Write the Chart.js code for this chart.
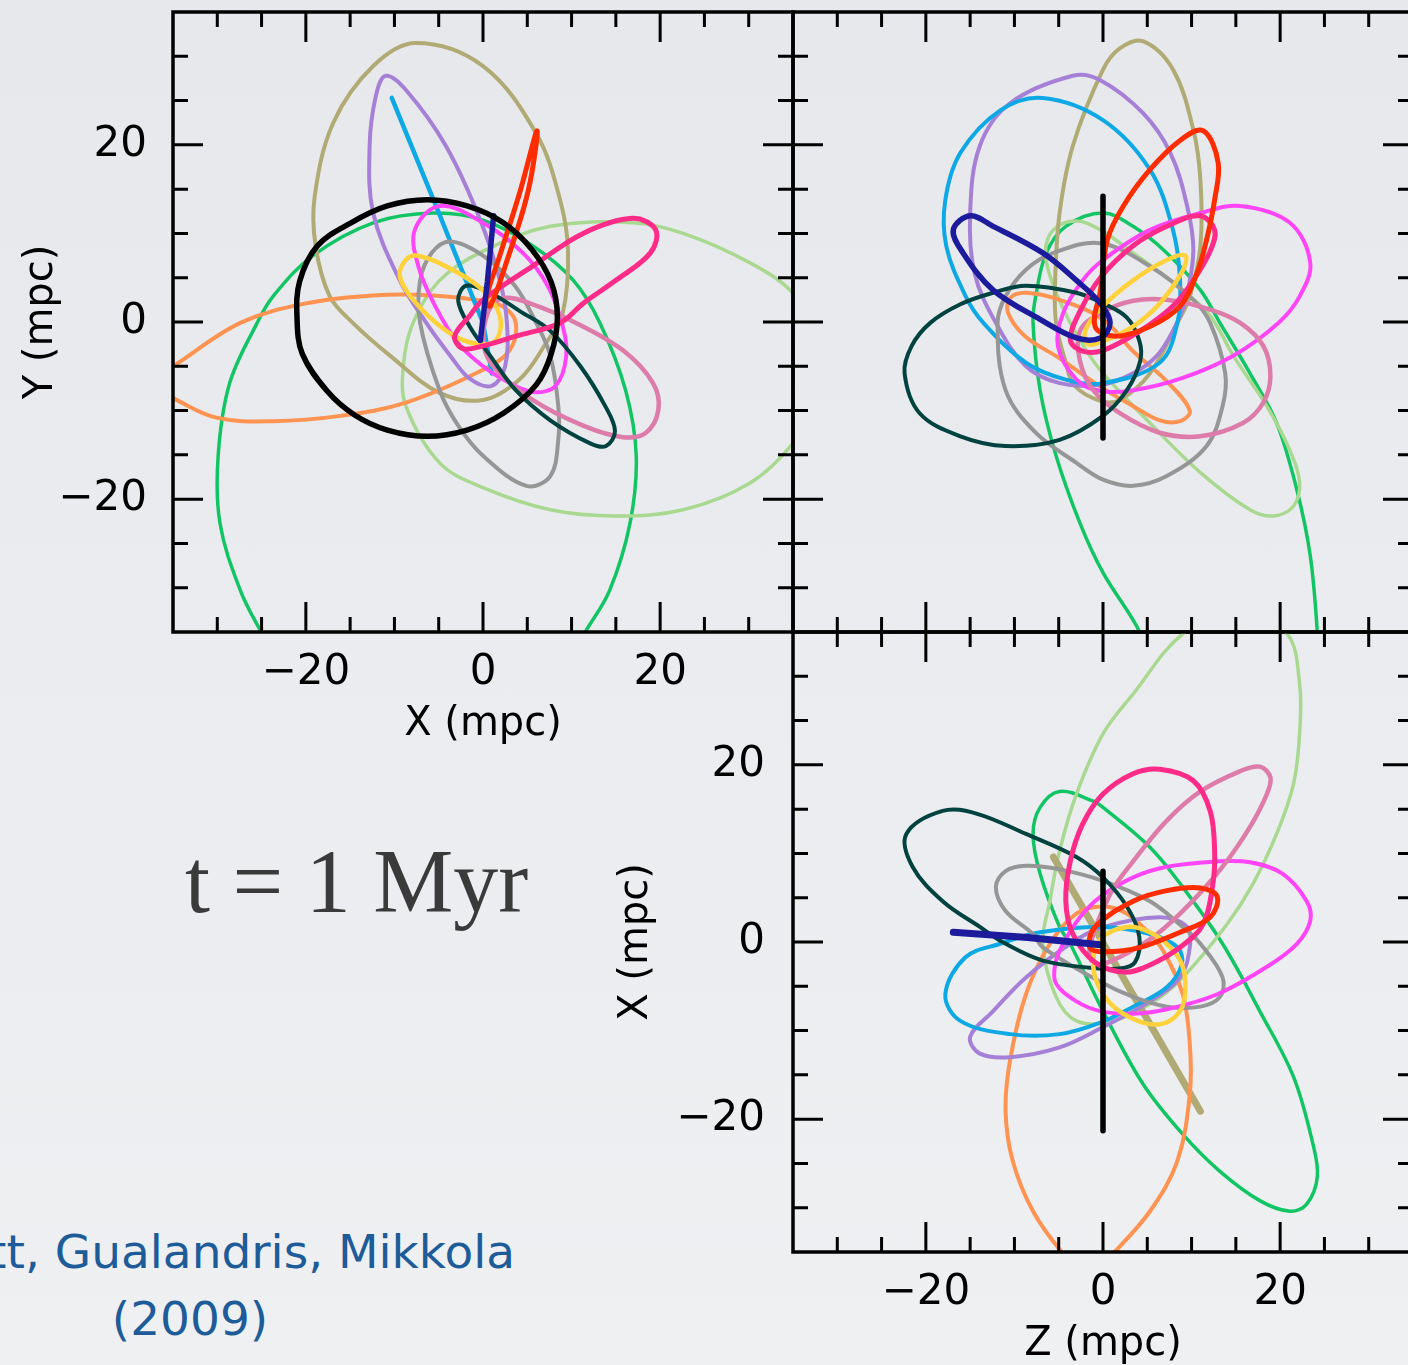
<!DOCTYPE html>
<html><head><meta charset="utf-8">
<script src="https://cdn.jsdelivr.net/npm/chart.js@4"></script>
<style>
html,body{margin:0;padding:0;width:1408px;height:1365px;overflow:hidden;}
body{position:relative;background:linear-gradient(180deg,#e7e8ec 0%,#ebecef 50%,#eff0f2 100%);}
canvas{position:absolute;}
#tl{left:0;top:0;width:800px;height:760px;}
#tr{left:786px;top:0;width:634px;height:640px;}
#br{left:600px;top:625px;width:820px;height:755px;}
#time{position:absolute;left:185px;top:837px;font-family:"Liberation Serif",serif;font-size:90px;line-height:90px;color:#3a3a3a;white-space:nowrap;}
#cite1{position:absolute;right:893px;top:1228px;font-family:"DejaVu Sans",sans-serif;font-size:47px;line-height:47px;color:#1d5c98;white-space:nowrap;}
#cite2{position:absolute;left:40px;width:300px;text-align:center;top:1295px;font-family:"DejaVu Sans",sans-serif;font-size:47px;line-height:47px;color:#1d5c98;white-space:nowrap;}
</style></head><body>
<canvas id="tl" width="800" height="760"></canvas>
<canvas id="tr" width="634" height="640"></canvas>
<canvas id="br" width="820" height="755"></canvas>
<div id="time">t = 1 Myr</div>
<div id="cite1">Merritt, Gualandris, Mikkola</div>
<div id="cite2">(2009)</div>
<script>
// ---------- axis ticks ----------
const axisMin = -35, axisMax = 35, tickStep = 5;
const majorTicks = [-20, 0, 20];
const tickText = ['\u221220', '0', '20'];

// ---------- top-left panel: X (horizontal) vs Y (vertical), mpc ----------
const xyBlack = [[8.4,0.5],[7.7,4.5],[5.5,8.2],[2.3,11.2],[-1.8,13.1],[-6.3,13.8],[-10.8,13.1],[-14.9,11.2],[-18.7,8.6],[-20.7,4.6],[-21.0,0.5],[-20.4,-3.6],[-17.6,-7.8],[-14.5,-10.5],[-10.8,-12.2],[-6.3,-12.9],[-1.8,-12.2],[2.3,-10.3],[6.0,-7.1],[7.7,-3.6]];
const xyGreen = [[-25.1,-34.9],[-27.4,-30.3],[-29.7,-22.7],[-29.9,-15.1],[-28.6,-6.9],[-25.5,-0.1],[-23.7,2.9],[-19.2,7.5],[-12.4,11.2],[-5.6,12.3],[0,11.5],[5.6,8.6],[10.2,4.7],[13.2,-0.1],[16.1,-7.7],[17.3,-15.1],[16.6,-22.7],[14.3,-30.3],[11.6,-34.9],[7.0,-42.8],[-7.1,-47.3],[-20.7,-42.8]];
const xyLightGreen = [[-7.9,-0.1],[-4.9,4.7],[0,8.0],[7.6,10.8],[16.9,11.2],[22.6,10.0],[30.1,6.7],[35.0,3.3],[38.6,-2.1],[38.0,-8.9],[35.0,-13.7],[30.1,-18.2],[22.6,-21.2],[15.0,-21.9],[7.6,-21.2],[0,-18.7],[-4.9,-15.9],[-8.7,-9.5],[-9.0,-5.0]];
const xyTan = [[-19.0,14.2],[-16.9,22.5],[-12.4,28.9],[-7.6,31.5],[0,28.9],[6.0,21.3],[8.7,13.8],[9.6,8.0],[9.0,1.0],[7.1,-2.4],[4.2,-6.4],[0,-8.8],[-4.9,-8.0],[-10.5,-3.8],[-14.7,-0.1],[-17.3,2.9],[-18.9,8.6]];
const xyPurple = [[-11.0,27.8],[-8.7,26.2],[-4.2,19.9],[-0.3,11.5],[1.9,4.7],[2.7,-0.1],[2.5,-5.0],[1.0,-7.2],[-1.5,-6.4],[-3.7,-3.8],[-6.4,-0.1],[-9.4,4.7],[-12.4,12.3],[-12.8,19.9],[-12.1,25.5]];
const xyBlue = [[-10.3,25.3],[-5.1,12.6],[0,-0.1],[1.0,-5.8]];
const xyRed = [[6.1,21.6],[4.2,14.8],[1.9,7.5],[0.3,2.4],[0.8,1.8],[2.5,6.3],[5.1,14.8]];
const xyNavy = [[1.2,12.0],[0.5,4.6],[-0.3,-2.1]];
const xyHotPink = [[19.5,10.4],[18.9,7.8],[15.0,4.7],[11.3,2.1],[8.7,-0.1],[3.7,-1.6],[0,-2.7],[-2.3,-3.0],[-3.2,-1.6],[-1.5,0.7],[0,2.5],[5.6,6.3],[11.3,10.0],[16.9,11.7]];
const xyMagenta = [[-4.9,13.1],[0,11.2],[4.5,7.8],[7.3,4.1],[8.9,-0.1],[9.4,-3.8],[8.2,-7.2],[5.6,-7.9],[2.3,-6.5],[0,-5.0],[-2.8,-2.4],[-5.4,1.8],[-7.3,6.3],[-7.7,10.4]];
const xyGray = [[-3.7,9.1],[0,7.5],[3.6,4.1],[6.0,-0.1],[7.6,-3.8],[8.5,-9.5],[8.5,-13.3],[7.6,-17.4],[4.9,-18.5],[0,-15.1],[-2.8,-11.7],[-4.9,-7.7],[-7.1,-0.1],[-7.1,4.7],[-5.8,7.8]];
const xyTeal = [[-1.9,4.1],[0.8,3.3],[4.2,1.2],[7.6,-1.0],[11.0,-5.0],[13.8,-9.5],[14.9,-12.3],[13.9,-14.0],[12.1,-13.7],[7.6,-11.1],[3.7,-7.7],[0.8,-3.8],[-1.5,-0.5],[-2.8,2.4]];
const xyMauve = [[2.3,2.7],[5.6,2.0],[10.5,-0.1],[15.8,-3.2],[19.2,-6.9],[19.8,-9.9],[18.4,-12.5],[15.8,-13.0],[11.3,-11.7],[5.6,-8.8],[1.5,-5.4],[0.1,-2.7],[0.6,1.2]];
const xyOrange = [[3.7,-0.1],[2.3,1.7],[0,2.4],[-5.6,3.0],[-12.4,3.0],[-20.0,2.1],[-27.4,-0.1],[-35.0,-5.0],[-38.2,-7.0],[-35.0,-8.6],[-30.1,-10.8],[-23.7,-11.2],[-16.1,-10.6],[-8.7,-9.1],[0,-5.4],[3.0,-3.2]];
const xyYellow = [[-7.6,7.5],[-4.2,6.3],[0,3.6],[1.9,0.7],[1.6,-1.9],[0,-2.5],[-2.6,-1.9],[-5.3,-0.1],[-8.2,2.9],[-9.4,5.2],[-8.8,6.9]];

// ---------- top-right panel: Z (horizontal) vs Y (vertical), mpc ----------
const zyBlack = [[0,14.2],[0,-13.1]];
const zyGreen = [[4.2,-35.1],[0,-28.3],[-2.6,-22.7],[-5.3,-15.1],[-7.1,-7.7],[-7.9,-0.1],[-7.6,2.9],[-6.4,7.8],[-4.2,10.8],[0,12.3],[3.4,10.8],[7.2,7.8],[11.0,3.6],[13.2,-0.1],[16.6,-5.8],[19.6,-11.4],[21.9,-19.0],[23.4,-26.4],[24.2,-35.1],[24.5,-42.8],[15.5,-50.7],[7.6,-43.9]];
const zyLightGreen = [[-3.0,11.4],[-0.3,10.4],[3.4,7.8],[8.4,4.1],[12.1,0.7],[14.7,-3.8],[18.5,-9.5],[21.1,-14.5],[22.2,-18.2],[21.5,-20.8],[19.2,-21.9],[16.6,-21.2],[11.0,-17.0],[5.3,-11.4],[0,-5.8],[-1.9,-3.2],[-3.7,-0.1],[-5.6,4.1],[-6.5,7.8],[-5.6,10.4]];
const zyTan = [[4.5,31.7],[7.9,28.5],[10.2,21.7],[11.0,16.0],[11.0,8.6],[9.8,2.9],[8.4,-0.1],[5.3,-5.8],[1.9,-8.8],[-0.3,-8.9],[-3.2,-7.2],[-4.2,-4.6],[-5.3,-0.1],[-5.4,4.7],[-4.9,12.3],[-3.4,19.9],[0,28.5],[1.9,30.9]];
const zyPurple = [[-3.4,27.8],[-0.3,27.3],[4.5,23.6],[7.6,19.1],[9.5,13.1],[10.2,8.0],[9.3,2.4],[7.9,-1.0],[6.1,-3.8],[3.4,-5.8],[-0.3,-7.1],[-4.9,-6.9],[-8.7,-5.0],[-12.1,-0.1],[-14.5,5.5],[-15.0,12.3],[-13.9,19.9],[-10.5,24.7]];
const zyBlue = [[-6.8,25.3],[0,22.8],[5.3,17.2],[7.9,10.4],[8.7,4.7],[8.4,-0.1],[6.4,-4.6],[0,-6.9],[-4.2,-6.5],[-8.7,-4.6],[-13.5,-0.1],[-15.5,2.9],[-17.7,8.6],[-17.8,13.8],[-16.1,19.1],[-11.6,23.9]];
const zyRed = [[11.3,21.6],[13.0,18.0],[12.6,13.8],[11.7,9.3],[10.6,5.5],[8.7,1.8],[5.3,-0.5],[1.4,-1.6],[-0.9,-0.5],[-0.3,3.5],[0.5,9.3],[2.3,13.1],[5.3,17.2],[8.7,20.5]];
const zyNavy = [[-16.9,10.4],[-15.0,12.0],[-12.4,10.8],[-6.8,7.8],[-3.0,4.7],[-0.3,2.1],[0.8,-0.1],[-0.3,-1.8],[-3.0,-1.8],[-7.1,0.3],[-12.4,3.6],[-15.8,7.8]];
const zyHotPink = [[10.9,12.0],[12.6,10.4],[12.1,8.0],[10.2,4.7],[7.9,1.8],[4.2,-1.0],[0,-3.2],[-2.3,-3.3],[-3.7,-2.0],[-2.6,1.2],[-0.3,5.0],[3.4,8.6],[7.2,10.8]];
const zyMagenta = [[15.5,13.1],[21.1,11.2],[23.4,6.7],[22.2,2.9],[19.8,-0.1],[14.7,-3.8],[9.0,-6.3],[3.4,-7.7],[-0.3,-7.8],[-3.0,-6.5],[-5.1,-2.7],[-4.5,1.0],[-2.3,4.7],[0,7.0],[5.3,10.4],[11.0,12.3]];
const zyTeal = [[-19.5,-0.1],[-16.1,2.0],[-12.4,3.3],[-8.7,4.1],[-3.0,3.3],[0,2.1],[2.7,0.5],[4.1,-2.1],[4.2,-4.4],[2.7,-7.7],[0,-10.6],[-4.9,-13.3],[-11.0,-14.0],[-16.1,-12.9],[-20.7,-10.3],[-22.4,-5.8],[-21.6,-2.7]];
const zyGray = [[-0.3,8.9],[5.3,6.3],[10.2,2.5],[12.1,-0.1],[13.8,-5.8],[13.5,-9.5],[11.7,-14.0],[7.2,-17.4],[3.4,-18.5],[0,-17.8],[-3.0,-15.9],[-7.6,-12.5],[-11.0,-7.7],[-11.9,-0.1],[-11.0,2.9],[-8.7,5.9],[-5.6,7.8]];
const zyMauve = [[-2.6,-1.0],[-0.3,1.0],[3.4,2.4],[7.2,2.5],[12.1,1.4],[15.5,-0.1],[18.1,-2.7],[18.9,-6.1],[18.1,-9.1],[15.8,-11.4],[11.0,-12.9],[6.4,-12.5],[1.9,-10.3],[-1.1,-7.7],[-2.6,-4.4]];
const zyOrange = [[-10.5,2.7],[-8.7,3.3],[-4.9,2.5],[0,0.3],[3.4,-3.3],[7.2,-6.7],[9.8,-10.0],[8.7,-11.2],[6.4,-11.1],[3.4,-9.5],[0,-7.5],[-4.9,-4.1],[-8.8,-1.6],[-10.7,1.0]];
const zyYellow = [[9.3,7.5],[9.0,5.8],[6.4,2.1],[3.4,-0.5],[0.2,-2.1],[-1.7,-2.5],[-2.0,-1.0],[-0.3,1.5],[3.4,4.7],[7.2,7.0]];

// ---------- bottom-right panel: Z (horizontal) vs X (vertical), mpc ----------
const zxBlack = [[0,8.0],[0,-21.3]];
const zxGreen = [[-4.9,17.0],[-1.1,15.9],[0,15.2],[5.3,10.7],[9.0,6.2],[13.5,-0.2],[17.7,-7.8],[21.5,-15.2],[23.7,-22.8],[24.2,-26.5],[23.0,-29.6],[21.1,-30.4],[17.7,-29.2],[13.2,-25.9],[9.0,-21.7],[4.5,-16.0],[0,-7.8],[-3.7,-0.2],[-4.9,1.7],[-7.1,7.7],[-7.9,12.2],[-7.1,15.2]];
const zxLightGreen = [[15.5,37.8],[20.8,34.8],[22.2,29.1],[22.2,23.5],[21.5,17.8],[19.6,12.2],[16.9,6.5],[14.0,2.0],[9.0,-4.0],[5.3,-7.0],[0.8,-9.0],[-3.0,-8.9],[-5.3,-6.2],[-6.8,-0.2],[-6.0,4.6],[-4.9,10.3],[-3.0,16.7],[0,23.5],[3.4,28.0],[9.0,34.8]];
const zxTan = [[-5.6,9.6],[11.0,-19.1]];
const zxPurple = [[-3.7,-0.2],[-0.3,1.6],[6.4,2.8],[9.5,1.7],[9.8,-0.6],[8.7,-4.0],[5.3,-6.7],[0,-9.6],[-4.9,-11.9],[-10.5,-13.0],[-13.9,-12.6],[-15.0,-10.7],[-12.4,-7.8],[-8.7,-4.0]];
const zxBlue = [[-11.6,-0.2],[-7.1,1.1],[0,1.7],[5.3,0.9],[8.4,-0.6],[8.9,-2.5],[7.2,-5.1],[3.4,-7.3],[-0.3,-9.1],[-4.9,-10.4],[-10.5,-10.4],[-16.1,-8.9],[-17.8,-5.9],[-15.5,-1.7]];
const zxRed = [[12.9,5.1],[12.1,2.8],[8.7,1.1],[4.2,-0.6],[0.2,-1.1],[-1.5,-0.6],[-0.9,1.7],[3.4,4.6],[7.2,5.8],[11.0,6.1]];
const zxNavy = [[-16.9,1.1],[-8.5,0.5],[-0.3,-0.3]];
const zxHotPink = [[6.4,19.5],[10.2,18.2],[12.1,14.8],[12.6,10.3],[12.4,6.5],[11.3,2.0],[8.7,-0.6],[5.3,-2.6],[2.5,-3.4],[-0.9,-2.3],[-3.4,0.9],[-4.2,4.6],[-3.7,9.1],[-2.3,13.3],[0,16.7],[3.4,19.0]];
const zxMagenta = [[12.9,9.1],[16.6,9.0],[20.3,7.7],[23.0,4.6],[23.4,2.4],[21.9,-0.2],[18.5,-2.8],[12.9,-5.9],[7.2,-7.6],[3.4,-8.1],[-0.3,-7.8],[-3.0,-6.7],[-5.3,-4.7],[-5.4,-2.5],[-4.5,-0.2],[-2.6,2.8],[-0.3,5.1],[3.4,7.3],[7.2,8.5]];
const zxTeal = [[-18.1,14.8],[-14.3,14.5],[-8.7,12.2],[-3.0,9.6],[0,7.3],[2.7,4.0],[4.1,0.6],[3.6,-2.3],[1.9,-3.0],[-1.5,-2.9],[-6.8,-2.1],[-11.0,-0.2],[-13.9,1.7],[-18.1,4.6],[-21.5,8.5],[-22.2,12.2]];
const zxGray = [[-8.7,8.6],[-4.9,8.2],[0,6.9],[5.3,4.6],[9.0,1.7],[11.0,-0.2],[13.5,-4.0],[13.2,-6.2],[11.0,-7.3],[7.2,-7.3],[3.4,-6.2],[-0.3,-4.5],[-6.8,-0.6],[-7.9,0.9],[-11.0,3.5],[-12.1,6.2],[-11.0,8.0]];
const zxMauve = [[17.7,19.8],[18.9,18.6],[18.5,16.7],[16.6,13.0],[13.5,8.5],[9.8,4.3],[6.1,0.9],[1.9,-1.7],[-0.9,-2.5],[-1.5,-0.6],[0.8,5.4],[3.4,9.1],[7.2,13.7],[11.0,17.0],[15.5,19.3]];
const zxOrange = [[0,4.0],[2.7,3.2],[5.3,0.9],[6.8,-1.0],[9.0,-5.9],[9.8,-11.5],[9.8,-17.2],[8.4,-24.7],[5.3,-30.4],[1.1,-35.2],[-1.7,-37.8],[-4.5,-35.2],[-7.9,-30.4],[-10.2,-24.7],[-11.0,-19.1],[-10.5,-13.4],[-8.7,-5.9],[-6.0,-0.2],[-3.0,3.2]];
const zxYellow = [[2.7,1.7],[5.3,1.1],[7.6,-0.6],[8.9,-2.5],[9.3,-5.1],[8.7,-7.8],[6.4,-9.3],[3.0,-8.5],[0.2,-6.2],[-1.1,-2.8],[-0.3,0.3]];

// ---------- styles (kept apart from the data) ----------
const styles = {
  black:{color:'#000000',width:5.5}, navy:{color:'#1b1b9c',width:5.5}, red:{color:'#ff2c00',width:5},
  hotPink:{color:'#ff2b88',width:5}, yellow:{color:'#ffd23c',width:4.5}, teal:{color:'#00423f',width:4},
  mauve:{color:'#dd7ca8',width:4.5}, magenta:{color:'#ff45f7',width:4}, gray:{color:'#969696',width:4},
  blue:{color:'#0ea9e4',width:4}, purple:{color:'#a680d6',width:4}, orange:{color:'#ff9352',width:4},
  tan:{color:'#b0ab74',width:4}, lightGreen:{color:'#a9d890',width:3.5}, green:{color:'#12c564',width:3.5}
};
const drawOrder = ['black','navy','red','hotPink','yellow','teal','mauve','magenta','gray','blue','purple','orange','tan','lightGreen','green'];

const panelTL = {black:xyBlack,green:xyGreen,lightGreen:xyLightGreen,tan:xyTan,purple:xyPurple,blue:xyBlue,red:xyRed,navy:xyNavy,hotPink:xyHotPink,magenta:xyMagenta,gray:xyGray,teal:xyTeal,mauve:xyMauve,orange:xyOrange,yellow:xyYellow};
const panelTR = {black:zyBlack,green:zyGreen,lightGreen:zyLightGreen,tan:zyTan,purple:zyPurple,blue:zyBlue,red:zyRed,navy:zyNavy,hotPink:zyHotPink,magenta:zyMagenta,gray:zyGray,teal:zyTeal,mauve:zyMauve,orange:zyOrange,yellow:zyYellow};
const panelBR = {black:zxBlack,green:zxGreen,lightGreen:zxLightGreen,tan:zxTan,purple:zxPurple,blue:zxBlue,red:zxRed,navy:zxNavy,hotPink:zxHotPink,magenta:zxMagenta,gray:zxGray,teal:zxTeal,mauve:zxMauve,orange:zxOrange,yellow:zxYellow};
const openTL = ['blue','navy'], openTR = ['black'], openBR = ['black','tan','navy'];
const widthOverride = {tl:{blue:4.5}, br:{tan:7, navy:7}};

function datasets(panel, openList, over) {
  return drawOrder.map(k => ({
    label: k,
    data: panel[k].map(p => ({x:p[0], y:p[1]})),
    showLine: true, pointRadius: 0, pointHoverRadius: 0, fill: false,
    borderColor: styles[k].color,
    borderWidth: (over && over[k]) || styles[k].width,
    tension: openList.includes(k) ? 0 : 0.36,
    borderCapStyle: 'round', borderJoinStyle: 'round',
    closedLoop: !openList.includes(k)
  }));
}

const loopPlugin = {
  id: 'loops',
  afterDatasetUpdate(chart, args) {
    const ds = chart.data.datasets[args.index];
    const line = args.meta.dataset;
    if (ds.closedLoop && line) { line._loop = true; line._fullLoop = true; line._pointsUpdated = false; }
  }
};

const framePlugin = {
  id: 'frame',
  afterDatasetsDraw(chart) {
    const {ctx, chartArea: a} = chart;
    const xs = chart.scales.x, ys = chart.scales.y;
    ctx.save();
    ctx.strokeStyle = '#000'; ctx.lineWidth = 3; ctx.lineCap = 'butt';
    ctx.beginPath();
    for (let v = axisMin + tickStep; v < axisMax; v += tickStep) {
      const L = majorTicks.includes(v) ? 30 : 15;
      const px = xs.getPixelForValue(v), py = ys.getPixelForValue(v);
      ctx.moveTo(px, a.bottom); ctx.lineTo(px, a.bottom - L);
      ctx.moveTo(px, a.top); ctx.lineTo(px, a.top + L);
      ctx.moveTo(a.left, py); ctx.lineTo(a.left + L, py);
      ctx.moveTo(a.right, py); ctx.lineTo(a.right - L, py);
    }
    ctx.stroke();
    ctx.lineWidth = 3.5;
    ctx.strokeRect(a.left, a.top, a.right - a.left, a.bottom - a.top);
    ctx.restore();
  }
};

const tickFont = {family:'DejaVu Sans', size:42};
const titleFont = {family:'DejaVu Sans', size:40};
const labelOf = v => { const i = majorTicks.indexOf(v); return i >= 0 ? tickText[i] : ''; };

function axis(show, titleText, titlePad, tickPad, fitSize, horizontal) {
  return {
    type:'linear', min:axisMin, max:axisMax, display: show,
    grid:{display:false, drawTicks:false}, border:{display:false},
    ticks:{stepSize:tickStep, autoSkip:false, maxRotation:0, minRotation:0, padding:tickPad, color:'#000', font:tickFont, callback:labelOf},
    title:{display:!!titleText, text:titleText || '', color:'#000', font:titleFont, padding:titlePad},
    afterFit: s => {
      if (horizontal) s.height = fitSize; else s.width = fitSize;
      s.paddingTop = 0; s.paddingBottom = 0; s.paddingLeft = 0; s.paddingRight = 0;
    }
  };
}

function makeChart(id, panel, openList, over, padding, xAxis, yAxis) {
  return new Chart(document.getElementById(id), {
    type:'scatter',
    data:{datasets: datasets(panel, openList, over)},
    options:{
      responsive:false, animation:false, devicePixelRatio:1,
      layout:{padding},
      plugins:{legend:{display:false}, tooltip:{enabled:false}},
      elements:{line:{capBezierPoints:false}},
      events: [],
      scales:{x:xAxis, y:yAxis}
    },
    plugins:[loopPlugin, framePlugin]
  });
}

makeChart('tl', panelTL, openTL, widthOverride.tl, {top:12, right:7, left:0, bottom:0},
  axis(true, 'X (mpc)', {top:0, bottom:11}, 16, 128, true),
  axis(true, 'Y (mpc)', {top:18, bottom:0}, 26, 173, false));
makeChart('tr', panelTR, openTR, null, {top:12, right:7, left:7, bottom:8},
  axis(false, '', 0, 0, 0, true),
  axis(false, '', 0, 0, 0, false));
makeChart('br', panelBR, openBR, widthOverride.br, {top:7, right:7, left:0, bottom:0},
  axis(true, 'Z (mpc)', {top:0, bottom:11}, 16, 128, true),
  axis(true, 'X (mpc)', {top:13, bottom:0}, 28, 193, false));
</script>
</body></html>
